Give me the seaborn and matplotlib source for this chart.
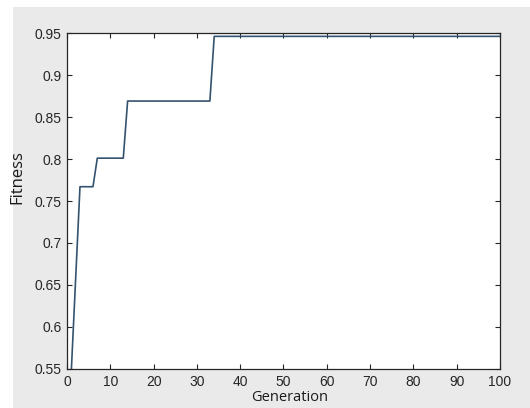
import matplotlib
matplotlib.use('Agg')
import matplotlib.pyplot as plt
import seaborn as sns
import pandas as pd
from matplotlib.patches import Rectangle

# breakpoints of the best-fitness curve (generation, fitness)
generation = [1, 3, 6, 7, 13, 14, 33, 34, 100]
fitness = [0.548, 0.767, 0.767, 0.801, 0.801, 0.869, 0.869, 0.946, 0.946]

x_ticks = [0, 10, 20, 30, 40, 50, 60, 70, 80, 90, 100]
y_ticks = [0.55, 0.6, 0.65, 0.7, 0.75, 0.8, 0.85, 0.9, 0.95]
y_tick_labels = ['0.55', '0.6', '0.65', '0.7', '0.75', '0.8', '0.85', '0.9', '0.95']

sns.set_style('ticks')
plt.rcParams['font.family'] = ['Liberation Sans', 'DejaVu Sans']

df = pd.DataFrame({'Generation': generation, 'Fitness': fitness})

fig = plt.figure(figsize=(5.3, 4.08), dpi=100, facecolor='#eaeaea')
# white margin strip at top and left of the screenshot
fig.patches.append(Rectangle((0, 0.983), 1, 0.017, transform=fig.transFigure,
                             facecolor='white', edgecolor='none', zorder=-1))
fig.patches.append(Rectangle((0, 0), 0.0245, 1, transform=fig.transFigure,
                             facecolor='white', edgecolor='none', zorder=-1))

ax = fig.add_axes([0.1264, 0.0956, 0.817, 0.8235])
ax.set_facecolor('white')

sns.lineplot(data=df, x='Generation', y='Fitness', ax=ax, color='#34536e',
             linewidth=1.2, estimator=None, sort=False)

ax.set_xlim(0, 100)
ax.set_ylim(0.55, 0.95)
ax.set_xticks(x_ticks)
ax.set_yticks(y_ticks)
ax.set_yticklabels(y_tick_labels)

for s in ax.spines.values():
    s.set_visible(True)
    s.set_color('#262626')
    s.set_linewidth(0.9)

ax.tick_params(direction='in', length=3.5, width=0.8, colors='#262626',
               labelsize=10, top=True, right=True)
ax.tick_params(axis='x', pad=4)
ax.tick_params(axis='y', pad=4)

ax.set_xlabel('Generation', fontsize=10.5, family=['Open Sans', 'DejaVu Sans'], color='#1a1a1a')
ax.set_ylabel('Fitness', fontsize=12, family=['Open Sans', 'DejaVu Sans'], color='#1a1a1a')
ax.xaxis.set_label_coords(0.513, -0.062)
ax.yaxis.set_label_coords(-0.097, 0.57)

fig.savefig('out.png', dpi=100, facecolor=fig.get_facecolor())
